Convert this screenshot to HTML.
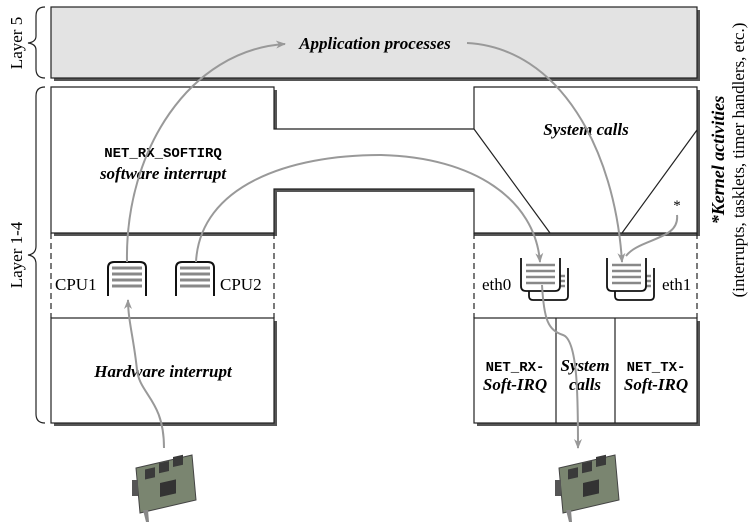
<!DOCTYPE html>
<html><head><meta charset="utf-8"><style>
html,body{margin:0;padding:0;background:#fff;}
svg{display:block;}
.bi{font-family:"Liberation Serif",serif;font-weight:bold;font-style:italic;}
.mono{font-family:"Liberation Mono",monospace;font-weight:bold;}
.rm{font-family:"Liberation Serif",serif;}
</style></head><body>
<svg width="750" height="523" viewBox="0 0 750 523" xmlns="http://www.w3.org/2000/svg">
<defs>
<marker id="ah" markerWidth="10" markerHeight="8" refX="9" refY="4" orient="auto" markerUnits="userSpaceOnUse">
<path d="M0,0 L10,4 L0,8 L3,4 Z" fill="#999"/></marker>
</defs>
<rect x="54" y="10" width="646" height="71" fill="#555"/>
<rect x="51" y="7" width="646" height="71" fill="#e3e3e3" stroke="#222" stroke-width="1.2"/>
<path d="M54,236 L277,236 L277,192 L474,192 L474,236 L700,236 L700,90 L697,90 L697,233 L474,233 L474,189 L274,189 L274,233 L54,233 Z" fill="#555"/>
<path d="M274,90 L277,90 L277,129 L274,129 Z" fill="#555"/>
<path d="M51,87 L274,87 L274,129 L474,129 L474,87 L697,87 L697,233 L474,233 L474,189 L274,189 L274,233 L51,233 Z" fill="#fff" stroke="#222" stroke-width="1.2"/>
<line x1="474" y1="129" x2="550" y2="233" stroke="#222" stroke-width="1.2"/>
<line x1="697" y1="130" x2="622" y2="233" stroke="#222" stroke-width="1.2"/>
<g stroke="#222" stroke-width="1.2" stroke-dasharray="6,4">
<line x1="51" y1="233" x2="51" y2="318"/><line x1="274" y1="233" x2="274" y2="318"/>
<line x1="474" y1="233" x2="474" y2="318"/><line x1="697" y1="233" x2="697" y2="318"/>
</g>
<rect x="54" y="321" width="223" height="105" fill="#555"/>
<rect x="51" y="318" width="223" height="105" fill="#fff" stroke="#222" stroke-width="1.2"/>
<rect x="477" y="321" width="223" height="105" fill="#555"/>
<rect x="474" y="318" width="223" height="105" fill="#fff" stroke="#222" stroke-width="1.2"/>
<line x1="556" y1="318" x2="556" y2="423" stroke="#222" stroke-width="1.2"/>
<line x1="615" y1="318" x2="615" y2="423" stroke="#222" stroke-width="1.2"/>
<g fill="none" stroke="#222" stroke-width="1.2">
<path d="M45,7 Q36,7 36,16 L36,36 Q36,42 28,43 Q36,44 36,50 L36,69 Q36,78 45,78"/>
<path d="M45,87 Q36,87 36,96 L36,246 Q36,254 28,255 Q36,256 36,264 L36,414 Q36,423 45,423"/>
</g>
<text class="rm" font-size="17" transform="translate(22,43) rotate(-90)" text-anchor="middle">Layer 5</text>
<text class="rm" font-size="17" transform="translate(22,255) rotate(-90)" text-anchor="middle">Layer 1-4</text>
<text class="bi" font-size="18" transform="translate(724,160) rotate(-90)" text-anchor="middle">*Kernel activities</text>
<text class="rm" font-size="17" transform="translate(744,160) rotate(-90)" text-anchor="middle">(interrupts, tasklets, timer handlers, etc.)</text>
<text class="bi" font-size="17" x="375" y="49" text-anchor="middle">Application processes</text>
<text class="mono" font-size="14" x="163" y="157" text-anchor="middle">NET_RX_SOFTIRQ</text>
<text class="bi" font-size="17" x="163" y="179" text-anchor="middle">software interrupt</text>
<text class="bi" font-size="17" x="586" y="135" text-anchor="middle">System calls</text>
<text class="rm" font-size="15" x="677" y="210" text-anchor="middle">*</text>
<text class="bi" font-size="17" x="163" y="377" text-anchor="middle">Hardware interrupt</text>
<text class="mono" font-size="14" x="515" y="371" text-anchor="middle">NET_RX-</text>
<text class="bi" font-size="17" x="515" y="390" text-anchor="middle">Soft-IRQ</text>
<text class="bi" font-size="17" x="585" y="371" text-anchor="middle">System</text>
<text class="bi" font-size="17" x="585" y="390" text-anchor="middle">calls</text>
<text class="mono" font-size="14" x="656" y="371" text-anchor="middle">NET_TX-</text>
<text class="bi" font-size="17" x="656" y="390" text-anchor="middle">Soft-IRQ</text>
<text class="rm" font-size="17" x="55" y="290">CPU1</text>
<text class="rm" font-size="17" x="220" y="290">CPU2</text>
<text class="rm" font-size="17" x="482" y="290">eth0</text>
<text class="rm" font-size="17" x="662" y="290">eth1</text>
<g fill="none" stroke="#111" stroke-width="2">
<path d="M108,296 L108,268 Q108,262 114,262 L140,262 Q146,262 146,268 L146,296"/>
<path d="M176,296 L176,268 Q176,262 182,262 L208,262 Q214,262 214,268 L214,296"/>
</g>
<g stroke="#888" stroke-width="3">
<line x1="112" y1="268" x2="142" y2="268"/><line x1="112" y1="274" x2="142" y2="274"/><line x1="112" y1="280" x2="142" y2="280"/><line x1="112" y1="286" x2="142" y2="286"/>
<line x1="180" y1="268" x2="210" y2="268"/><line x1="180" y1="274" x2="210" y2="274"/><line x1="180" y1="280" x2="210" y2="280"/><line x1="180" y1="286" x2="210" y2="286"/>
</g>
<!-- eth queues: back then front -->
<g fill="none" stroke="#111" stroke-width="1.8">
<path d="M529,268 L529,296 Q529,300 533,300 L564,300 Q568,300 568,296 L568,268"/>
<path d="M615,268 L615,296 Q615,300 619,300 L650,300 Q654,300 654,296 L654,268"/>
</g>
<g stroke="#888" stroke-width="2.5">
<line x1="560" y1="276" x2="565" y2="276"/><line x1="560" y1="281" x2="565" y2="281"/><line x1="560" y1="286" x2="565" y2="286"/>
<line x1="646" y1="276" x2="651" y2="276"/><line x1="646" y1="281" x2="651" y2="281"/><line x1="646" y1="286" x2="651" y2="286"/>
</g>
<g fill="#fff" stroke="#111" stroke-width="1.8">
<path d="M521,258 L521,286 Q521,291 526,291 L555,291 Q560,291 560,286 L560,258"/>
<path d="M607,258 L607,286 Q607,291 612,291 L641,291 Q646,291 646,286 L646,258"/>
</g>
<g stroke="#888" stroke-width="2.5">
<line x1="526" y1="265" x2="555" y2="265"/><line x1="526" y1="271" x2="555" y2="271"/><line x1="526" y1="277" x2="555" y2="277"/><line x1="526" y1="283" x2="555" y2="283"/>
<line x1="612" y1="265" x2="641" y2="265"/><line x1="612" y1="271" x2="641" y2="271"/><line x1="612" y1="277" x2="641" y2="277"/><line x1="612" y1="283" x2="641" y2="283"/>
</g>
<g fill="none" stroke="#999" stroke-width="2">
<path d="M164,448 C164,400 140,395 137,370 C134,340 128,320 128,300" marker-end="url(#ah)"/>
<path d="M127,262 C125,150 190,50 285,44" marker-end="url(#ah)"/>
<path d="M467,43 C560,48 615,150 622,262" marker-end="url(#ah)"/>
<path d="M196,262 C200,185 290,155 380,155 C475,157 535,200 540,262" marker-end="url(#ah)"/>
<path d="M677,215 C680,240 640,238 626,256"/>
<path d="M542,285 C544,320 548,330 563,335 C578,340 578,400 578,448" marker-end="url(#ah)"/>
</g>
<g id="nic">
<path d="M136,468 L192,455 L196,500 L140,513 Z" fill="#7a8570" stroke="#444" stroke-width="1"/>
<rect x="145" y="468" width="10" height="10" fill="#3a3a3a" transform="skewY(-13) translate(0,35)"/>
<rect x="159" y="465" width="10" height="10" fill="#3a3a3a" transform="skewY(-13) translate(0,35)"/>
<rect x="173" y="462" width="10" height="10" fill="#3a3a3a" transform="skewY(-13) translate(0,35)"/>
<rect x="160" y="483" width="16" height="14" fill="#333" transform="skewY(-13) translate(0,37)"/>
<rect x="132" y="480" width="6" height="16" fill="#555"/>
<path d="M143,510 L146,522 L149,522 L148,510 Z" fill="#888"/>
</g>
<use href="#nic" transform="translate(423,0)"/>
</svg>
</body></html>
